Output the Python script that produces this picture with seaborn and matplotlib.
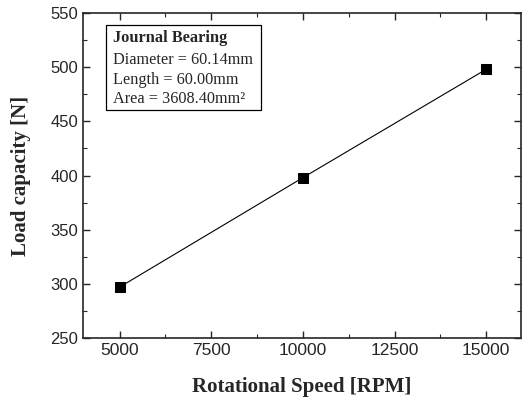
import numpy as np
import pandas as pd
import seaborn as sns
import matplotlib.pyplot as plt
from matplotlib.ticker import MultipleLocator

# data
speed = [5000, 10000, 15000]
load = [297, 398, 498]
x_ticks = [5000, 7500, 10000, 12500, 15000]
y_ticks = [250, 300, 350, 400, 450, 500, 550]
box_lines = ['Diameter = 60.14mm', 'Length = 60.00mm', 'Area = 3608.40mm²']

df = pd.DataFrame({'speed': speed, 'load': load})

sns.set_style("ticks")
plt.rcParams['font.family'] = ['Liberation Sans', 'DejaVu Sans']

fig = plt.figure(figsize=(5.22, 4), dpi=100)
ax = fig.add_axes([0.159, 0.155, 0.839, 0.8125])

sns.lineplot(data=df, x='speed', y='load', ax=ax, color='black', linewidth=0.8,
             marker='s', markersize=6.5, markeredgecolor='black', markerfacecolor='black')

ax.set_xlim(4000, 15950)
ax.set_ylim(250, 550)
ax.set_xticks(x_ticks)
ax.set_yticks(y_ticks)
ax.xaxis.set_minor_locator(MultipleLocator(1250))
ax.yaxis.set_minor_locator(MultipleLocator(25))
ax.tick_params(which='both', direction='in', top=True, right=True)
ax.tick_params(axis='x', labelsize=12.5)
ax.tick_params(axis='y', labelsize=12)
ax.tick_params(which='major', length=5, width=1)
ax.tick_params(which='minor', length=3, width=0.8)
for s in ax.spines.values():
    s.set_linewidth(1.2)

ax.set_xlabel('Rotational Speed [RPM]', family='Liberation Serif', fontweight='bold', fontsize=15, labelpad=14)
ax.set_ylabel('Load capacity [N]', family='Liberation Serif', fontweight='bold', fontsize=15, labelpad=14)

# info box
ax.text(0.068, 0.923, 'Journal Bearing', transform=ax.transAxes, family='Liberation Serif',
        fontweight='bold', fontsize=11.8, va='center', ha='left')
for yy, line in zip([0.855, 0.794, 0.735], box_lines):
    ax.text(0.068, yy, line, transform=ax.transAxes, family='Liberation Serif',
            fontsize=11.7, va='center', ha='left')
ax.add_patch(plt.Rectangle((0.0525, 0.7015), 0.354, 0.2615, transform=ax.transAxes,
                           fill=False, edgecolor='black', linewidth=0.9))

fig.savefig('out.png', dpi=100)
